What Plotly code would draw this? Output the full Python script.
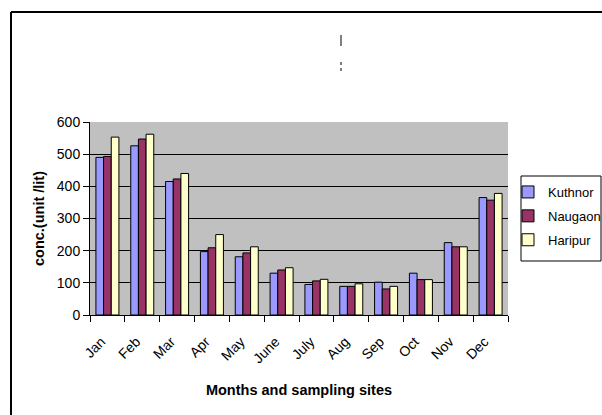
import plotly.graph_objects as go

months = ["Jan", "Feb", "Mar", "Apr", "May", "June", "July", "Aug", "Sep", "Oct", "Nov", "Dec"]
kuthnor = [490, 526, 415, 197, 181, 130, 95, 89, 102, 130, 225, 365]
naugaon = [493, 547, 423, 209, 193, 140, 106, 89, 81, 110, 212, 357]
haripur = [553, 562, 440, 250, 212, 147, 111, 97, 89, 110, 212, 378]
y_ticks = [0, 100, 200, 300, 400, 500, 600]

series = [("Kuthnor", kuthnor, "#9999FF"), ("Naugaon", naugaon, "#993366"), ("Haripur", haripur, "#FFFFCC")]

fig = go.Figure()
for name, vals, col in series:
    fig.add_trace(go.Bar(x=months, y=vals, name=name, legendgroup=name,
                         marker=dict(color=col, line=dict(color="black", width=1))))

L, R, T, B = 90, 94, 122, 100
W, H = 602, 415
pw, ph = W - L - R, H - T - B
px = lambda x: (x - L) / pw
py = lambda y: (H - B - y) / ph

fig.update_layout(
    width=W, height=H,
    margin=dict(l=L, r=R, t=T, b=B, autoexpand=False),
    paper_bgcolor="white", plot_bgcolor="#C0C0C0",
    barmode="group", bargap=0.34, bargroupgap=0,
    font=dict(family="Liberation Sans, Arial, sans-serif", size=14, color="black"),
    showlegend=True,
    legend=dict(x=px(508), y=py(177), xanchor="left", yanchor="top",
                borderwidth=0, bgcolor="rgba(0,0,0,0)", font=dict(size=13),
                tracegroupgap=4),
    xaxis=dict(title=dict(text="<b>Months and sampling sites</b>", font=dict(size=14.5), standoff=19),
               tickangle=-45, ticks="outside", tickson="boundaries", ticklen=6, tickcolor="black",
               ticklabelstandoff=12, ticklabelshift=-6,
               showline=True, linecolor="black", linewidth=1, showgrid=False, automargin=False),
    yaxis=dict(title=dict(text="<b>conc.(unit /lit)</b>", font=dict(size=14.5), standoff=8),
               range=[0, 600], tickvals=y_ticks, ticks="outside", ticklen=6, tickcolor="black",
               showline=True, linecolor="black", linewidth=1, automargin=False,
               showgrid=True, gridcolor="black", gridwidth=1, zeroline=False),
    shapes=[
        dict(type="line", xref="paper", yref="paper", x0=px(11), x1=px(605), y0=py(12), y1=py(12),
             line=dict(color="black", width=2)),
        dict(type="line", xref="paper", yref="paper", x0=px(11), x1=px(11), y0=py(420), y1=py(12),
             line=dict(color="black", width=2)),
        dict(type="line", xref="paper", yref="paper", x0=px(341), x1=px(341), y0=py(35), y1=py(46),
             line=dict(color="black", width=1)),
        dict(type="line", xref="paper", yref="paper", x0=px(341), x1=px(341), y0=py(62), y1=py(74),
             line=dict(color="black", width=1, dash="dot")),
        dict(type="rect", xref="paper", yref="paper", x0=px(521), x1=px(601), y0=py(176), y1=py(261),
             line=dict(color="black", width=1), fillcolor="rgba(0,0,0,0)", layer="below"),
    ],
)
fig.write_html("out.html", config={"displayModeBar": False},
               post_script="document.body.style.margin='0';document.body.style.padding='0';")
